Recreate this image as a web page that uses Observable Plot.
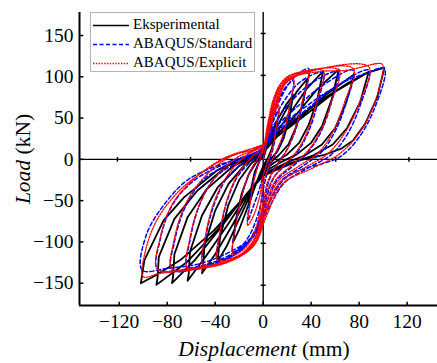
<!DOCTYPE html>
<html><head><meta charset="utf-8">
<script src="https://cdn.jsdelivr.net/npm/d3@7"></script>
<script src="https://cdn.jsdelivr.net/npm/@observablehq/plot@0.6"></script>
<style>
body{margin:0;background:#fff;}
#wrap{position:relative;width:437px;height:363px;font-family:"Liberation Serif","Times New Roman",serif;color:#000;overflow:hidden;}
#legend{position:absolute;left:90px;top:12px;width:165px;height:60px;border:1px solid #b4b4b4;background:#fff;box-sizing:border-box;font-size:15px;}
#legend .row{position:absolute;left:0;height:19px;line-height:19px;white-space:nowrap;}
#legend svg{position:absolute;left:2px;top:9px;}
#legend span{position:absolute;left:42px;top:0;}
#xlab{position:absolute;left:264px;top:336px;transform:translateX(-50%);font-size:21.5px;white-space:nowrap;line-height:26px;}
#ylab{position:absolute;left:23px;top:159px;transform:translate(-50%,-50%) rotate(-90deg);font-size:21.5px;white-space:nowrap;line-height:26px;}
</style></head><body><div id="wrap"></div>
<script>
const xTicks=[-120,-80,-40,0,40,80,120];
const yTicks=[-150,-100,-50,0,50,100,150];
const centerXTicks=[-121.5,-60.5,60.5,121.5];
const centerYTicks=[-152.5,-101.7,-50.8,50.8,101.7,152.5];
const xDomain=[-153.1,145.3];
const yDomain=[-177,177.9];
const seriesNames=["Eksperimental","ABAQUS/Standard","ABAQUS/Explicit"];
const seriesColors=["#000000","#0000ff","#ff0000"];

const eksperimental=[
[0,0],[4,20],[8,36],[12,48],[10,30],[7,12],[4,2],[0,-8],[-4,-22],[-8,-38],[-12,-55],[-10,-35],[-7,-15],[-3,-2],
[0,4],[5,25],[12,48],[19,66],[25,78],[22,52],[17,25],[12,10],[6,0],[0,-10],[-6,-30],[-13,-58],[-20,-85],[-25,-100],[-23,-75],[-18,-42],[-12,-18],[-6,-4],
[0,6],[8,30],[18,57],[28,82],[37,98],[33,68],[27,38],[21,18],[13,5],[5,-5],[0,-12],[-9,-38],[-20,-72],[-30,-104],[-38,-124],[-36,-95],[-29,-55],[-20,-25],[-10,-5],
[0,7],[10,30],[22,55],[36,85],[50,107],[45,72],[38,42],[30,20],[20,6],[9,-4],[0,-14],[-11,-40],[-25,-78],[-40,-115],[-51,-138],[-50,-128],[-49,-105],[-40,-62],[-29,-30],[-15,-6],
[0,8],[12,30],[28,55],[45,85],[63,109],[57,72],[49,40],[40,20],[28,6],[14,-4],[0,-16],[-13,-42],[-30,-80],[-48,-118],[-63,-147],[-62,-138],[-61,-112],[-51,-68],[-38,-34],[-20,-8],
[0,8],[12,28],[30,50],[52,78],[76,103],[69,68],[60,38],[49,18],[35,5],[18,-5],[0,-18],[-15,-44],[-35,-82],[-57,-122],[-76,-150],[-75,-141],[-74,-115],[-63,-70],[-47,-36],[-25,-8],
[0,8],[12,28],[32,50],[60,82],[88,106],[81,70],[70,38],[58,18],[42,5],[22,-5],[0,-19],[-16,-46],[-38,-85],[-64,-125],[-89,-152],[-88,-143],[-87,-118],[-74,-72],[-55,-38],[-30,-8],
[-2,7],[10,30],[30,52],[50,73],[70,92],[85,104],[101,111],[95,75],[85,43],[75,23],[65,13],[50,5],[31,-1],[17,-9],[0,-20],[-16,-46],[-41,-86],[-69,-122],[-89,-140],[-102,-150],[-101,-141],[-99,-122],[-83,-74],[-66,-46],[-38,-13],[-19,1],[-2,7]
];

const standard=[
[0,0],[4,25],[8,45],[13,60],[11,35],[8,12],[4,-5],[0,-20],[-4,-40],[-9,-60],[-13,-75],[-11,-50],[-8,-25],[-4,-5],
[0,10],[5,40],[12,70],[19,88],[25,95],[22,62],[17,30],[11,8],[5,-10],[1,-30],[-3,-60],[-10,-88],[-18,-105],[-25,-112],[-23,-80],[-18,-45],[-12,-18],[-5,0],
[0,12],[7,45],[15,75],[25,98],[38,110],[34,75],[28,40],[20,12],[12,-5],[5,-25],[1,-50],[-5,-80],[-15,-105],[-27,-118],[-38,-122],[-36,-90],[-30,-50],[-21,-20],[-10,-2],
[0,14],[8,45],[18,72],[32,95],[50,105],[46,72],[39,38],[30,12],[19,-6],[9,-22],[2,-50],[-5,-82],[-17,-108],[-32,-122],[-50,-128],[-48,-95],[-41,-55],[-30,-22],[-15,-2],
[0,15],[9,42],[22,68],[40,92],[62,106],[57,70],[49,36],[38,10],[25,-8],[12,-24],[3,-52],[-5,-85],[-20,-112],[-40,-126],[-63,-132],[-61,-98],[-53,-55],[-40,-22],[-20,-2],
[0,15],[10,38],[27,62],[50,90],[75,108],[69,68],[60,34],[48,8],[32,-9],[15,-26],[4,-55],[-6,-88],[-25,-115],[-48,-129],[-76,-134],[-74,-100],[-65,-58],[-50,-25],[-25,-3],
[0,14],[11,36],[30,58],[58,86],[88,108],[81,66],[70,30],[57,6],[38,-10],[18,-28],[5,-58],[-7,-92],[-28,-116],[-55,-130],[-88,-133],[-86,-98],[-76,-56],[-58,-26],[-30,-4],
[0,13],[12,34],[35,59],[60,88],[85,104],[101,110],[92,59],[78,23],[64,3],[50,-5],[31,-13],[17,-25],[6,-50],[-2,-75],[-10,-95],[-25,-110],[-52,-126],[-80,-132],[-101,-134],[-97,-90],[-80,-50],[-63,-25],[-41,-9],[-24,-1],[0,10]
];

const explicit=[
[0,0],[4,30],[8,52],[13,65],[11,40],[8,15],[4,-2],[0,-20],[-3,-45],[-8,-68],[-13,-80],[-11,-55],[-8,-28],[-4,-6],
[0,12],[4,45],[9,75],[16,94],[25,98],[22,65],[17,32],[11,10],[5,-8],[0,-30],[-3,-65],[-9,-95],[-17,-110],[-25,-115],[-23,-82],[-18,-46],[-12,-18],[-5,0],
[0,14],[5,50],[11,82],[20,100],[37,105],[33,72],[27,38],[20,12],[12,-6],[4,-26],[-1,-60],[-6,-92],[-16,-112],[-27,-120],[-38,-122],[-36,-88],[-30,-48],[-21,-18],[-10,2],
[0,16],[6,52],[13,85],[24,102],[50,107],[45,72],[38,38],[29,12],[18,-6],[7,-26],[0,-60],[-6,-95],[-18,-115],[-33,-124],[-50,-127],[-48,-92],[-41,-52],[-30,-20],[-15,4],
[0,18],[7,55],[15,88],[28,103],[63,108],[57,70],[48,35],[37,10],[24,-7],[10,-26],[1,-62],[-6,-98],[-20,-118],[-40,-128],[-63,-131],[-61,-95],[-53,-54],[-40,-22],[-22,2],
[0,18],[8,56],[17,90],[32,104],[75,110],[68,70],[58,33],[46,8],[30,-8],[12,-27],[2,-64],[-6,-100],[-23,-120],[-48,-130],[-76,-133],[-74,-96],[-65,-55],[-50,-23],[-28,3],
[0,18],[9,58],[19,92],[38,106],[88,112],[80,68],[68,32],[54,7],[36,-9],[14,-28],[2,-66],[-7,-102],[-27,-122],[-56,-131],[-88,-133],[-86,-96],[-76,-55],[-58,-24],[-32,2],[-12,12],
[0,18],[10,58],[21,96],[45,106],[70,108],[98,116],[100,113],[92,65],[78,28],[62,5],[42,-10],[16,-30],[3,-68],[-8,-105],[-30,-125],[-60,-134],[-86,-138],[-100,-142],[-98,-110],[-88,-72],[-70,-38],[-50,-15],[-33,0],[-15,10],[0,18]
];

const vTick={draw(ctx,size){const h=Math.sqrt(size/Math.PI);ctx.moveTo(0,-h);ctx.lineTo(0,h);}};
const hTick={draw(ctx,size){const h=Math.sqrt(size/Math.PI);ctx.moveTo(-h,0);ctx.lineTo(h,0);}};
const upTick={draw(ctx,size){const h=Math.sqrt(size/Math.PI);ctx.moveTo(0,0);ctx.lineTo(0,-h);}};
const rightTick={draw(ctx,size){const h=Math.sqrt(size/Math.PI);ctx.moveTo(0,0);ctx.lineTo(h,0);}};

const chart=Plot.plot({
  width:437,height:363,
  marginLeft:79,marginRight:0,marginTop:12,marginBottom:58,
  style:{fontFamily:"'Liberation Serif','Times New Roman',serif",fontSize:"19.5px",color:"#000",background:"#fff",overflow:"visible"},
  x:{domain:xDomain,label:null},
  y:{domain:yDomain,label:null},
  marks:[
    Plot.axisX({ticks:xTicks,tickSize:0,tickPadding:9,label:null,fill:"#000"}),
    Plot.axisY({ticks:yTicks,tickSize:0,tickPadding:6,label:null,fill:"#000"}),
    Plot.dot(xTicks,{x:d=>d,y:()=>yDomain[0],symbol:upTick,r:3.7,stroke:"#000",strokeWidth:1.5}),
    Plot.dot(yTicks,{x:()=>xDomain[0],y:d=>d,symbol:rightTick,r:3.9,stroke:"#000",strokeWidth:1.5}),
    Plot.ruleY([0],{stroke:"#000",strokeWidth:1.4}),
    Plot.ruleX([0],{stroke:"#000",strokeWidth:1.4}),
    Plot.dot(centerXTicks,{x:d=>d,y:()=>0,symbol:vTick,r:2.3,stroke:"#000",strokeWidth:1.5}),
    Plot.dot(centerYTicks,{x:()=>0,y:d=>d,symbol:hTick,r:2.5,stroke:"#000",strokeWidth:1.5}),
    Plot.line(eksperimental,{x:d=>d[0],y:d=>d[1],stroke:seriesColors[0],strokeWidth:1.8,curve:"linear"}),
    Plot.line(standard,{x:d=>d[0],y:d=>d[1],stroke:seriesColors[1],strokeWidth:1.5,strokeDasharray:"4,2.5",curve:"catmull-rom"}),
    Plot.line(explicit,{x:d=>d[0],y:d=>d[1],stroke:seriesColors[2],strokeWidth:1.3,strokeDasharray:"1.4,1.4",curve:"catmull-rom"}),
    Plot.ruleX([xDomain[0]],{stroke:"#000",strokeWidth:2}),
    Plot.ruleY([yDomain[0]],{stroke:"#000",strokeWidth:2})
  ]
});
const wrap=document.getElementById("wrap");
wrap.appendChild(chart);

const legend=document.createElement("div");
legend.id="legend";
const dashes=[null,"4,2.5","1.4,1.4"];
seriesNames.forEach((name,i)=>{
  const row=document.createElement("div");
  row.className="row";
  row.style.top=(2+i*19)+"px";
  row.style.width="160px";
  const svg=`<svg width="36" height="3"><line x1="0" x2="36" y1="1.5" y2="1.5" stroke="${seriesColors[i]}" stroke-width="1.7" ${dashes[i]?`stroke-dasharray="${dashes[i]}"`:""}/></svg>`;
  row.innerHTML=svg+`<span>${name}</span>`;
  legend.appendChild(row);
});
wrap.appendChild(legend);

const xl=document.createElement("div");xl.id="xlab";xl.innerHTML="<i>Displacement</i> (mm)";wrap.appendChild(xl);
const yl=document.createElement("div");yl.id="ylab";yl.innerHTML="<i>Load</i> (kN)";wrap.appendChild(yl);
</script></body></html>
